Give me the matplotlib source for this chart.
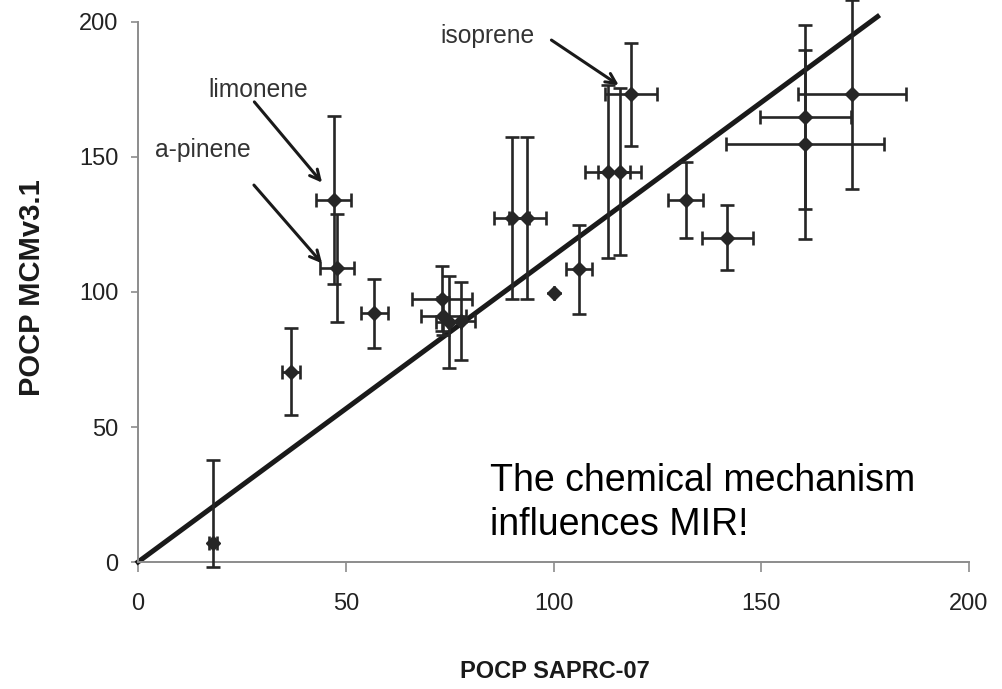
import matplotlib
matplotlib.use('Agg')
import matplotlib.pyplot as plt

plt.rcParams['font.family'] = ['Liberation Sans', 'DejaVu Sans']

# POCP values: SAPRC-07 (x) against MCMv3.1 (y)
saprc = [47.1, 47.9, 56.9, 36.9, 18.0, 73.2, 73.5, 74.8, 77.8, 89.9, 93.7,
         100.0, 106.1, 113.1, 115.9, 118.6, 131.8, 141.8, 160.6, 160.6, 171.8]
mcm = [134.0, 108.8, 92.1, 70.5, 7.2, 97.5, 91.0, 89.0, 89.3, 127.4, 127.4,
       99.8, 108.4, 144.6, 144.6, 173.2, 134.1, 120.1, 164.9, 154.8, 173.2]
saprc_err = [4.2, 4.1, 3.2, 2.2, 1.0, 7.2, 5.5, 3.0, 3.2, 4.3, 4.4,
             0.0, 3.1, 5.4, 5.1, 6.2, 4.15, 6.15, 11.0, 19.0, 13.0]
mcm_err_low = [31, 20, 13, 16, 9.2, 12, 7, 17, 14.5, 30, 30,
               0, 16.5, 32, 31, 19, 14, 12, 34, 35, 35]
mcm_err_high = [31, 20, 12.6, 16, 30.6, 12, 7, 17, 14.5, 30, 30,
                0, 16.5, 32, 31, 19, 14, 12, 34, 35, 35]

# fitted line
fit_x = [0, 178]
fit_y = [0, 202]

ticks = [0, 50, 100, 150, 200]

# labelled compounds: (name, text pos, arrow start, arrow tip)
labels = [
    ('limonene', (16.9, 172.3), (28.0, 170.4), (44.3, 140.5)),
    ('a-pinene', (4.1, 150.0), (27.9, 139.6), (44.3, 110.6)),
    ('isoprene', (72.8, 192.2), (99.5, 193.3), (115.7, 176.6)),
]

fig = plt.figure(figsize=(10.03, 6.89), dpi=100)
ax = fig.add_axes([0.1376, 0.1843, 0.8285, 0.7838])

ax.plot(fit_x, fit_y, color='#1a1a1a', lw=3.6, clip_on=False, zorder=2)

eb = ax.errorbar(saprc, mcm, xerr=saprc_err, yerr=[mcm_err_low, mcm_err_high],
                 fmt='D', color='#262626', ms=7, elinewidth=1.9, capsize=5,
                 capthick=1.9, zorder=3)
for part in eb.lines:
    if isinstance(part, tuple):
        for p in part:
            p.set_clip_on(False)
    elif part is not None:
        part.set_clip_on(False)

for name, tpos, start, tip in labels:
    ax.text(tpos[0], tpos[1], name, fontsize=17.7, color='#333333', va='baseline', ha='left')
    ax.annotate('', xy=tip, xytext=start,
                arrowprops=dict(arrowstyle='->', color='#1a1a1a', lw=2.2,
                                mutation_scale=18, shrinkA=0, shrinkB=0))

# baseline of the last line sits at y=10
ax.text(84.8, 10.0, 'The chemical mechanism\ninfluences MIR!', fontsize=27,
        color='black', va='baseline', ha='left', linespacing=1.3)

ax.set_xlim(0, 200)
ax.set_ylim(0, 200)
ax.set_xticks(ticks)
ax.set_yticks(ticks)
for s in ['top', 'right']:
    ax.spines[s].set_visible(False)
for s in ['left', 'bottom']:
    ax.spines[s].set_color('#8c8c8c')
    ax.spines[s].set_linewidth(1.4)
ax.tick_params(axis='y', direction='out', length=5, width=1.2, color='#8c8c8c',
               labelsize=17, labelcolor='#222222', pad=9)
ax.tick_params(axis='x', direction='out', length=7, width=1.2, color='#8c8c8c',
               labelsize=17, labelcolor='#222222', pad=15)

fig.text(555 / 1003, 1 - 672 / 689, 'POCP SAPRC-07', fontsize=17, fontweight='bold',
         color='#1a1a1a', ha='center', va='center')
fig.text(32 / 1003, 1 - 288 / 689, 'POCP MCMv3.1', fontsize=21, fontweight='bold',
         color='#1a1a1a', ha='center', va='center', rotation=90)

fig.savefig('out.png', dpi=100)
